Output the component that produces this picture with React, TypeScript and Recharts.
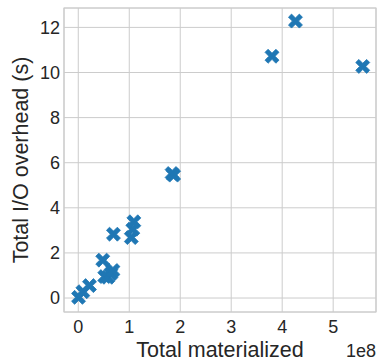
import { ScatterChart, Scatter, XAxis, YAxis, CartesianGrid, ReferenceArea, Label } from "recharts"

// total bytes materialized vs. total I/O overhead per run
const materialized = [
  0.005e8, 0.09e8, 0.22e8, 0.48e8, 0.52e8, 0.58e8, 0.64e8, 0.68e8, 0.69e8,
  1.04e8, 1.07e8, 1.09e8, 1.84e8, 1.87e8, 3.8e8, 4.26e8, 5.58e8,
]
const overhead = [
  0.03, 0.28, 0.55, 1.68, 0.95, 0.92, 1.08, 1.22, 2.83,
  2.68, 3.05, 3.38, 5.52, 5.45, 10.72, 12.28, 10.27,
]
const xTicks = [0, 1e8, 2e8, 3e8, 4e8, 5e8]
const yTicks = [0, 2, 4, 6, 8, 10, 12]

const X_DOMAIN: [number, number] = [-0.28e8, 5.84e8]
const Y_DOMAIN: [number, number] = [-0.62, 12.86]

const BLUE = "#1f77b4"
const GRID = "#cccccc"
const TEXT = "#262626"
const FONT = "'Liberation Sans', Arial, sans-serif"
const TICK_SIZE = 18
const LABEL_SIZE = 21.5

const points = materialized.map((m, i) => ({ x: m, y: overhead[i] }))

// filled "X" marker
function XMarker(props: any) {
  const { cx, cy } = props
  const s = 7
  const t = 3.1
  const pts = [
    [-s, -s + t], [-s + t, -s], [0, -t], [s - t, -s], [s, -s + t], [t, 0],
    [s, s - t], [s - t, s], [0, t], [-s + t, s], [-s, s - t], [-t, 0],
  ]
  const d = pts.map(([px, py], i) => `${i ? "L" : "M"}${cx + px},${cy + py}`).join("") + "Z"
  return <path d={d} fill={BLUE} stroke={BLUE} strokeWidth={0.8} strokeLinejoin="round" />
}

export default function App() {
  return (
    <div style={{ position: "absolute", left: 0, top: 0 }}>
      <ScatterChart width={377} height={363} margin={{ top: 8, right: 1, bottom: 0, left: 0 }}>
        <CartesianGrid stroke={GRID} strokeWidth={1} />
        <XAxis
          type="number"
          dataKey="x"
          domain={X_DOMAIN}
          ticks={xTicks}
          allowDataOverflow
          height={51}
          tickFormatter={(v: number) => String(v / 1e8)}
          tick={{ fontSize: TICK_SIZE, fill: TEXT, fontFamily: FONT }}
          tickLine={false}
          axisLine={false}
          tickSize={4}
          tickMargin={4}
        >
          <Label
            content={({ viewBox }: any) => (
              <text
                x={viewBox.x + viewBox.width / 2}
                y={viewBox.y + 45}
                textAnchor="middle"
                fontSize={LABEL_SIZE}
                fill={TEXT}
                fontFamily={FONT}
              >
                Total materialized
              </text>
            )}
          />
          <Label
            content={({ viewBox }: any) => (
              <text
                x={viewBox.x + viewBox.width}
                y={viewBox.y + 45}
                textAnchor="end"
                fontSize={TICK_SIZE}
                fill={TEXT}
                fontFamily={FONT}
              >
                1e8
              </text>
            )}
          />
        </XAxis>
        <YAxis
          type="number"
          dataKey="y"
          domain={Y_DOMAIN}
          ticks={yTicks}
          allowDataOverflow
          width={64}
          tick={{ fontSize: TICK_SIZE, fill: TEXT, fontFamily: FONT }}
          tickLine={false}
          axisLine={false}
          tickSize={4}
          tickMargin={0}
        >
          <Label
            content={({ viewBox }: any) => {
              const cx = 21
              const cy = viewBox.y + viewBox.height / 2
              return (
                <text
                  x={cx}
                  y={cy}
                  transform={`rotate(-90 ${cx} ${cy})`}
                  textAnchor="middle"
                  dominantBaseline="central"
                  fontSize={LABEL_SIZE}
                  fill={TEXT}
                  fontFamily={FONT}
                >
                  Total I/O overhead (s)
                </text>
              )
            }}
          />
        </YAxis>
        <ReferenceArea
          x1={X_DOMAIN[0]}
          x2={X_DOMAIN[1]}
          y1={Y_DOMAIN[0]}
          y2={Y_DOMAIN[1]}
          fill="none"
          stroke={GRID}
          strokeWidth={1.2}
          fillOpacity={0}
        />
        <Scatter data={points} shape={XMarker} isAnimationActive={false} />
      </ScatterChart>
    </div>
  )
}
